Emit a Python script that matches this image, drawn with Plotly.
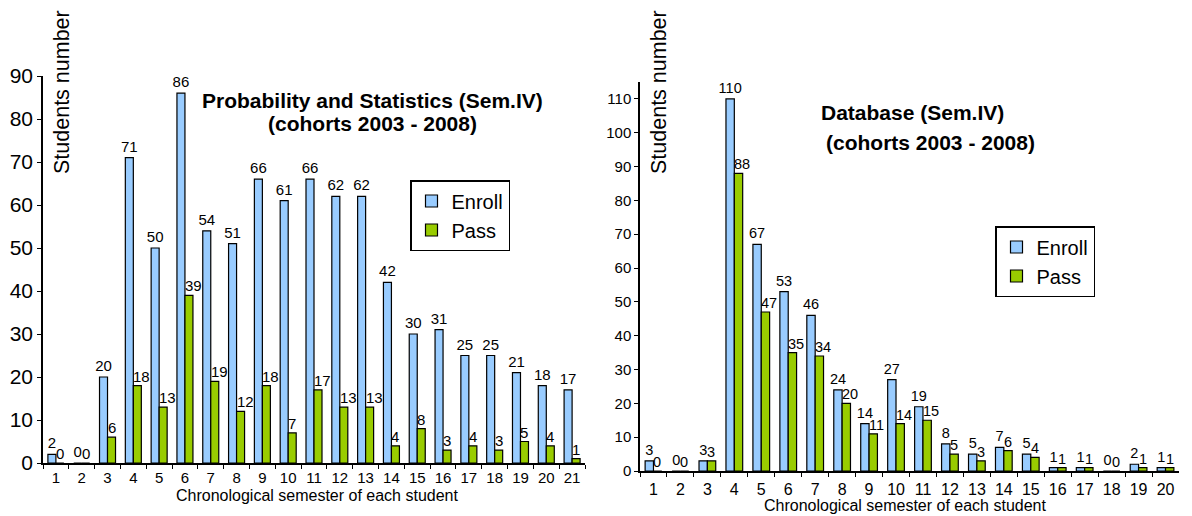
import plotly.graph_objects as go

sem_ps = [str(i) for i in range(1, 22)]
enroll_ps = [2, 0, 20, 71, 50, 86, 54, 51, 66, 61, 66, 62, 62, 42, 30, 31, 25, 25, 21, 18, 17]
pass_ps = [0, 0, 6, 18, 13, 39, 19, 12, 18, 7, 17, 13, 13, 4, 8, 3, 4, 3, 5, 4, 1]

sem_db = [str(i) for i in range(1, 21)]
enroll_db = [3, 0, 3, 110, 67, 53, 46, 24, 14, 27, 19, 8, 5, 7, 5, 1, 1, 0, 2, 1]
pass_db = [0, 0, 3, 88, 47, 35, 34, 20, 11, 14, 15, 5, 3, 6, 4, 1, 1, 0, 1, 1]

BLUE = "#99CCFF"
GREEN = "#99CC00"
FONT = "Liberation Sans, Arial, sans-serif"

fig = go.Figure()

def add_bars(x, enr, pas, xa, ya, legend, lsize):
    fig.add_trace(go.Bar(x=x, y=enr, name="Enroll",
                         marker=dict(color=BLUE, line=dict(color="black", width=1.2)),
                         text=enr, textposition="outside", constraintext="none",
                         textfont=dict(size=lsize, color="black", family=FONT),
                         outsidetextfont=dict(size=lsize, color="black", family=FONT),
                         cliponaxis=False, xaxis=xa, yaxis=ya, legend=legend))
    fig.add_trace(go.Bar(x=x, y=pas, name="Pass",
                         marker=dict(color=GREEN, line=dict(color="black", width=1.2)),
                         cliponaxis=False, xaxis=xa, yaxis=ya, legend=legend))
    # Pass value labels, left-aligned from the green bar's left edge (as in the original)
    for i, v in enumerate(pas):
        fig.add_annotation(x=i, y=v, xref=xa, yref=ya, text=str(v), showarrow=False,
                           xanchor="left", yanchor="bottom", xshift=-2, yshift=-1,
                           font=dict(size=lsize, color="black", family=FONT))

add_bars(sem_ps, enroll_ps, pass_ps, "x", "y", "legend", 15)
add_bars(sem_db, enroll_db, pass_db, "x2", "y2", "legend2", 14.5)

W, H = 1192, 516
def px(v):
    return v / W
def py(v):
    return 1 - v / H

axis_common = dict(showline=True, linecolor="black", linewidth=1.5, ticks="outside", tickcolor="black",
                   ticklen=4, showgrid=False, zeroline=False, automargin=False)

fig.update_layout(
    width=W, height=H, margin=dict(l=0, r=0, t=0, b=0, pad=0, autoexpand=False),
    paper_bgcolor="white", plot_bgcolor="white",
    font=dict(family=FONT, color="black"),
    barmode="group", bargap=0.38, bargroupgap=0.0,
    xaxis=dict(domain=[px(43), px(585)], anchor="y", type="category", tickson="boundaries",
               range=[-0.5, len(sem_ps) - 0.5],
               tickangle=0, tickfont=dict(size=15), **axis_common),
    yaxis=dict(domain=[py(463), py(76)], anchor="x", range=[0, 90], tickvals=list(range(0, 100, 10)),
               tickfont=dict(size=21), **axis_common),
    xaxis2=dict(domain=[px(640), px(1179)], anchor="y2", type="category", tickson="boundaries",
                range=[-0.5, len(sem_db) - 0.5], ticklabelstandoff=3,
                tickangle=0, tickfont=dict(size=16), **axis_common),
    yaxis2=dict(domain=[py(471), py(82)], anchor="x2", range=[0, 115], tickvals=list(range(0, 120, 10)),
                tickfont=dict(size=15), **axis_common),
    legend=dict(x=px(410), y=py(180), xanchor="left", yanchor="top", bordercolor="black", borderwidth=1.5,
                font=dict(size=20), bgcolor="white", tracegroupgap=2),
    legend2=dict(x=px(995), y=py(226), xanchor="left", yanchor="top", bordercolor="black", borderwidth=1.5,
                 font=dict(size=20), bgcolor="white", tracegroupgap=2),
    showlegend=True,
)

annots = [
    dict(x=px(372), y=py(100), text="<b>Probability and Statistics (Sem.IV)</b>", font=dict(size=21)),
    dict(x=px(372), y=py(124), text="<b>(cohorts 2003 - 2008)</b>", font=dict(size=21)),
    dict(x=px(912), y=py(113), text="<b>Database (Sem.IV)</b>", font=dict(size=21)),
    dict(x=px(930), y=py(142), text="<b>(cohorts 2003 - 2008)</b>", font=dict(size=21)),
    dict(x=px(317), y=py(495), text="Chronological semester of each student", font=dict(size=16)),
    dict(x=px(905), y=py(505), text="Chronological semester of each student", font=dict(size=16)),
    dict(x=px(62), y=py(92), text="Students number", font=dict(size=21.5), textangle=-90),
    dict(x=px(659), y=py(92), text="Students number", font=dict(size=21.5), textangle=-90),
]
for a in annots:
    fig.add_annotation(xref="paper", yref="paper", showarrow=False, xanchor="center", yanchor="middle", **a)

fig.write_html("out.html")
